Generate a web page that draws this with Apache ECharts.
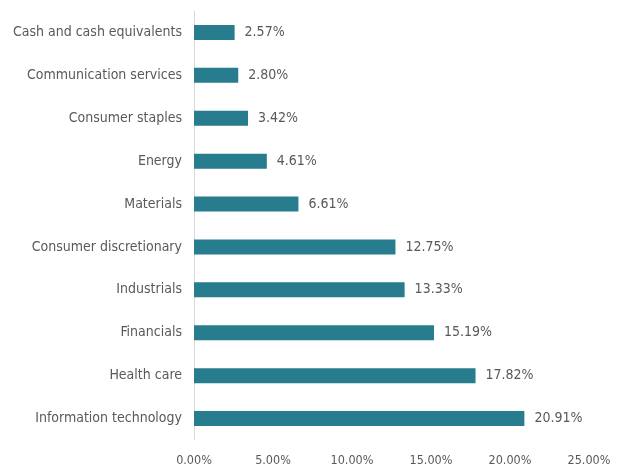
<!DOCTYPE html>
<html><head><meta charset="utf-8">
<script src="https://cdn.jsdelivr.net/npm/echarts@6/dist/echarts.min.js"></script>
<style>html,body{margin:0;padding:0;background:#fff}#c{width:627px;height:468px}</style>
</head><body><div id="c"></div>
<script>
const categories = ["Cash and cash equivalents","Communication services","Consumer staples","Energy","Materials","Consumer discretionary","Industrials","Financials","Health care","Information technology"];
const values = [2.57,2.80,3.42,4.61,6.61,12.75,13.33,15.19,17.82,20.91];
const xTicks = [0,5,10,15,20,25];
const FONT = '"Liberation Sans Narrow","DejaVu Sans Condensed",sans-serif';
const chart = echarts.init(document.getElementById('c'));
chart.setOption({
  animation:false,
  grid:{left:194,right:38,top:11,bottom:28,containLabel:false,outerBoundsMode:'none'},
  xAxis:{type:'value',min:xTicks[0],max:xTicks[xTicks.length-1],interval:5,
    axisLine:{show:false},axisTick:{show:false},splitLine:{show:false},
    axisLabel:{color:'#595959',fontFamily:FONT,fontSize:12.5,margin:14,formatter:v=>v.toFixed(2)+'%'}},
  yAxis:{type:'category',data:categories,inverse:true,
    axisLine:{show:true,lineStyle:{color:'#d9d9d9',width:1}},axisTick:{show:false},
    axisLabel:{color:'#595959',fontFamily:FONT,fontSize:14,margin:12}},
  series:[{type:'bar',data:values,barWidth:15,itemStyle:{color:'#277d8e'},
    label:{show:true,position:'right',distance:10,color:'#595959',fontFamily:FONT,fontSize:14,formatter:p=>p.value.toFixed(2)+'%'}}]
});
</script></body></html>
